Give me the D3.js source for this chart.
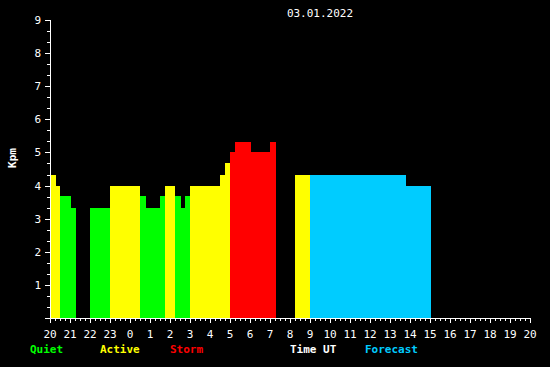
<!DOCTYPE html>
<html><head><meta charset="utf-8">
<script src="https://cdn.jsdelivr.net/npm/d3@7"></script>
<style>html,body{margin:0;padding:0;background:#000;}svg{display:block;}</style>
</head><body>
<script>
// hours since 20:00 UT of previous day
const barStart = [0, 0.3, 0.5, 1.05, 2, 3, 4.5, 4.8, 5.5, 5.75, 6.25, 6.55, 6.75, 7, 8.5, 8.75, 9, 9.25, 10.05, 11, 12.25, 13, 17.8];
const barEnd   = [0.3, 0.5, 1.05, 1.3, 3, 4.5, 4.8, 5.5, 5.75, 6.25, 6.55, 6.75, 7, 8.5, 8.75, 9, 9.25, 10.05, 11, 11.3, 13, 17.8, 19.05];
const barKp    = [4.33, 4, 3.67, 3.33, 3.33, 4, 3.67, 3.33, 3.67, 4, 3.67, 3.33, 3.67, 4, 4.33, 4.67, 5, 5.33, 5, 5.33, 4.33, 4.33, 4];
const barType  = ["A","A","Q","Q","Q","A","Q","Q","Q","A","Q","Q","Q","A","A","A","S","S","S","S","A","F","F"];
const hourLabels = ["20","21","22","23","0","1","2","3","4","5","6","7","8","9","10","11","12","13","14","15","16","17","18","19","20"];
const yLabels = [1,2,3,4,5,6,7,8,9];
const legendNames = ["Quiet","Active","Storm","Time UT","Forecast"];
const legendColors = ["#00ff00","#ffff00","#ff0000","#ffffff","#00ccff"];
const title = "03.01.2022";

const colors = {Q:"#00ff00", A:"#ffff00", S:"#ff0000", F:"#00ccff"};
const W = 550, H = 367;
const svg = d3.select("body").append("svg").attr("width", W).attr("height", H)
  .style("background", "#000").attr("shape-rendering", "crispEdges");
const font = "'DejaVu Sans Mono', monospace";

const x = d3.scaleLinear().domain([0, 24]).range([50, 530]);
const y = d3.scaleLinear().domain([0, 9]).range([318, 20]);

// bars
const bars = barStart.map((s, i) => ({s, e: barEnd[i], v: barKp[i], t: barType[i]}));
svg.append("g").selectAll("rect").data(bars).join("rect")
  .attr("x", d => Math.round(x(d.s)))
  .attr("width", d => Math.round(x(d.e)) - Math.round(x(d.s)))
  .attr("y", d => Math.round(y(d.v)))
  .attr("height", d => 318 - Math.round(y(d.v)))
  .attr("fill", d => colors[d.t]);

// x axis
const xg = svg.append("g");
xg.append("line").attr("x1", 50).attr("x2", 531).attr("y1", 318.5).attr("y2", 318.5).attr("stroke", "#fff");
const xt = d3.range(0, 24.001, 0.25);
xg.selectAll("line.t").data(xt).join("line").attr("class", "t")
  .attr("x1", d => Math.round(x(d)) + 0.5).attr("x2", d => Math.round(x(d)) + 0.5)
  .attr("y1", 318).attr("y2", d => Math.abs(d - Math.round(d)) < 1e-6 ? 323 : 321)
  .attr("stroke", "#fff");
xg.selectAll("text").data(hourLabels).join("text")
  .attr("x", (d, i) => x(i)).attr("y", 338)
  .attr("text-anchor", "middle").attr("fill", "#fff")
  .style("font-family", font).style("font-size", "11px").text(d => d);

// y axis
const yg = svg.append("g");
yg.append("line").attr("x1", 50.5).attr("x2", 50.5).attr("y1", 20).attr("y2", 319).attr("stroke", "#fff");
const yt = d3.range(0, 27).map(i => i / 3).concat([9]);
yg.selectAll("line.t").data(yt).join("line").attr("class", "t")
  .attr("x1", d => Math.abs(d - Math.round(d)) < 1e-6 ? 45 : 47).attr("x2", 50)
  .attr("y1", d => Math.round(y(d)) + 0.5).attr("y2", d => Math.round(y(d)) + 0.5)
  .attr("stroke", "#fff");
yg.selectAll("text").data(yLabels).join("text")
  .attr("x", 41).attr("y", d => y(d) + 4)
  .attr("text-anchor", "end").attr("fill", "#fff")
  .style("font-family", font).style("font-size", "11px").text(d => d);

// y title
svg.append("text").attr("transform", "translate(16,158) rotate(-90)")
  .attr("text-anchor", "middle").attr("fill", "#fff")
  .style("font-family", font).style("font-size", "11px").style("font-weight", "bold").text("Kpm");

// title
svg.append("text").attr("x", 320).attr("y", 17).attr("text-anchor", "middle").attr("fill", "#fff")
  .style("font-family", font).style("font-size", "11px").text(title);

// legend
const legendX = [30, 100, 170, 290, 365];
svg.append("g").selectAll("text").data(legendNames).join("text")
  .attr("x", (d, i) => legendX[i]).attr("y", 353)
  .attr("fill", (d, i) => legendColors[i])
  .style("font-family", font).style("font-size", "11px").style("font-weight", "bold").text(d => d);
</script>
</body></html>
